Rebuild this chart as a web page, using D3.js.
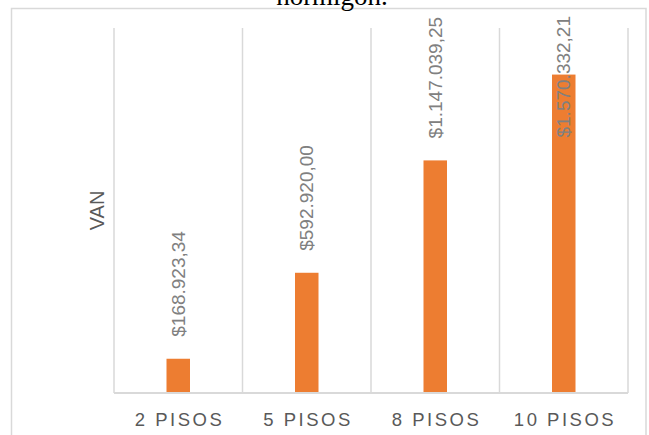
<!doctype html>
<html>
<head>
<meta charset="UTF-8">
<script src="https://cdnjs.cloudflare.com/ajax/libs/d3/7.8.5/d3.min.js"></script>
<style>
  body { margin: 0; background: #fff; }
</style>
</head>
<body>
<div id="chart"></div>
<script>
// data
var categories = ["2 PISOS", "5 PISOS", "8 PISOS", "10 PISOS"];
var values = [168923.34, 592920.00, 1147039.25, 1570332.21];
var labels = ["$168.923,34", "$592.920,00", "$1.147.039,25", "$1.570.332,21"];
var yMax = 1800000;

var W = 649, H = 435;
var plot = { left: 114, right: 628, top: 28, bottom: 393 };

var svg = d3.select("#chart").append("svg")
  .attr("width", W)
  .attr("height", H);

// outer frame
svg.append("rect")
  .attr("x", 11.5).attr("y", 8.5)
  .attr("width", 634.5).attr("height", 440)
  .attr("fill", "none")
  .attr("stroke", "#d9d9d9")
  .attr("stroke-width", 1.5);

// title (only its lower part shows, as in the original)
svg.append("text")
  .attr("x", 332)
  .attr("y", 5)
  .attr("text-anchor", "middle")
  .style("font-family", "Liberation Serif")
  .style("font-size", "27px")
  .attr("fill", "#000")
  .text("hormigón.");

var x = d3.scaleBand().domain(categories).range([plot.left, plot.right]);
var y = d3.scaleLinear().domain([0, yMax]).range([plot.bottom, plot.top]);

// vertical gridlines at category boundaries
var bounds = categories.map(c => x(c)).concat([plot.right]);
svg.append("g").selectAll("line")
  .data(bounds)
  .enter().append("line")
    .attr("x1", d => d).attr("x2", d => d)
    .attr("y1", plot.top).attr("y2", plot.bottom)
    .attr("stroke", "#d9d9d9")
    .attr("stroke-width", 1.5);

// bars
var barW = 23.5;
svg.append("g").selectAll("rect")
  .data(values)
  .enter().append("rect")
    .attr("x", (d, i) => x(categories[i]) + x.bandwidth() / 2 - barW / 2)
    .attr("y", d => y(d))
    .attr("width", barW)
    .attr("height", d => plot.bottom - y(d))
    .attr("fill", "#ED7D31");

// x axis line
svg.append("line")
  .attr("x1", plot.left).attr("x2", plot.right)
  .attr("y1", plot.bottom).attr("y2", plot.bottom)
  .attr("stroke", "#d9d9d9")
  .attr("stroke-width", 2);

// category labels
svg.append("g").selectAll("text")
  .data(categories)
  .enter().append("text")
    .attr("x", d => x(d) + x.bandwidth() / 2 + 1.25)
    .attr("y", 426)
    .attr("text-anchor", "middle")
    .style("font-family", "Liberation Sans")
    .style("font-size", "18.5px")
    .style("letter-spacing", "2.5px")
    .attr("fill", "#595959")
    .text(d => d);

// value labels, rotated, clamped inside the plot
svg.append("g").selectAll("text")
  .data(values)
  .enter().append("text")
    .attr("text-anchor", "start")
    .attr("dy", "0.35em")
    .style("font-family", "Liberation Sans")
    .style("font-size", "19px")
    .attr("fill", "#808080")
    .text((d, i) => labels[i])
    .attr("transform", function(d, i) {
      var len = this.getComputedTextLength();
      var cx = x(categories[i]) + x.bandwidth() / 2;
      var yy = y(d) - 22;
      if (yy - len < 16) yy = 16 + len;
      return "translate(" + cx + "," + yy + ") rotate(-90)";
    });

// y axis title
svg.append("text")
  .attr("transform", "translate(97," + ((plot.top + plot.bottom) / 2) + ") rotate(-90)")
  .attr("text-anchor", "middle")
  .attr("dy", "0.35em")
  .style("font-family", "Liberation Sans")
  .style("font-size", "20px")
  .attr("fill", "#595959")
  .text("VAN");
</script>
</body>
</html>
